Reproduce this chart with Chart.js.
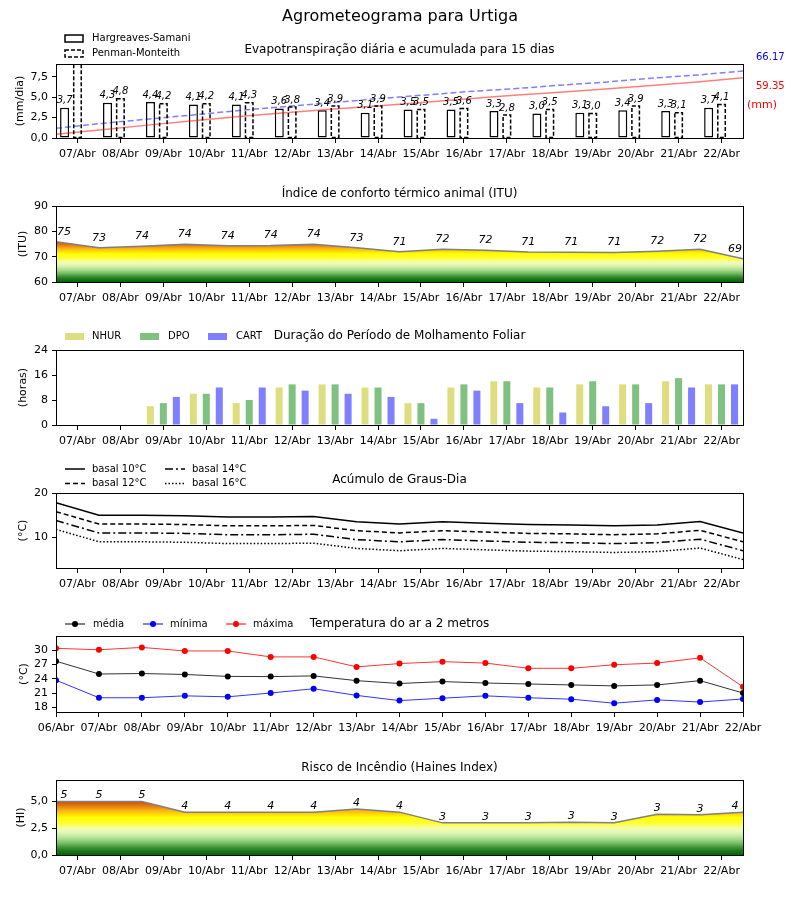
<!DOCTYPE html>
<html>
<head>
<meta charset="utf-8">
<script src="https://cdn.jsdelivr.net/npm/chart.js@4"></script>
<style>
  body { margin: 0; background: #fff; width: 800px; height: 900px; position: relative; overflow: hidden; }
  canvas { position: absolute; left: 0; }
</style>
</head>
<body>
<canvas id="c0" width="800" height="172" style="top:0px"></canvas>
<canvas id="c1" width="800" height="142" style="top:172px"></canvas>
<canvas id="c2" width="800" height="144" style="top:314px"></canvas>
<canvas id="c3" width="800" height="142" style="top:458px"></canvas>
<canvas id="c4" width="800" height="144" style="top:600px"></canvas>
<canvas id="c5" width="800" height="156" style="top:744px"></canvas>
<script>
// ---------- data ----------
const dayLabels = ['07/Abr','08/Abr','09/Abr','10/Abr','11/Abr','12/Abr','13/Abr','14/Abr',
                   '15/Abr','16/Abr','17/Abr','18/Abr','19/Abr','20/Abr','21/Abr','22/Abr'];
const tempLabels = ['06/Abr'].concat(dayLabels);

// evapotranspiration (mm/dia)
const hsDaily = [3.7, 4.3, 4.4, 4.1, 4.1, 3.6, 3.4, 3.1, 3.5, 3.5, 3.3, 3.0, 3.1, 3.4, 3.3, 3.7];
const pmDaily = [9.57, 4.8, 4.2, 4.2, 4.3, 3.8, 3.9, 3.9, 3.5, 3.6, 2.8, 3.5, 3.0, 3.9, 3.1, 4.1];
// accumulated (mm)
const hsCum = [3.8, 8.2, 12.7, 16.9, 21.1, 24.8, 28.3, 31.5, 35.1, 38.7, 42.1, 45.2, 48.4, 51.9, 55.3, 59.35];
const pmCum = [9.6, 14.4, 18.6, 22.8, 27.1, 30.9, 34.8, 38.7, 42.2, 45.8, 48.6, 52.1, 55.1, 59.0, 62.1, 66.17];

// ITU
const itu = [75.9, 73.5, 74.1, 74.9, 74.3, 74.4, 74.9, 73.5, 71.9, 72.9, 72.5, 71.8, 71.7, 71.6, 72.1, 72.9, 69.2];

// leaf wetness (horas)
const nhur = [0, 0, 6, 10, 7, 12, 13, 12, 7, 12, 14, 12, 13, 13, 14, 13];
const dpo  = [0, 0, 7, 10, 8, 13, 13, 12, 7, 13, 14, 12, 14, 13, 15, 13];
const cart = [0, 0, 9, 12, 12, 11, 10, 9, 2, 11, 7, 4, 6, 7, 12, 13];

// degree-days
const gd10 = [17.8, 15.0, 15.0, 14.9, 14.6, 14.6, 14.7, 13.5, 13.0, 13.5, 13.2, 12.9, 12.8, 12.6, 12.8, 13.6, 11.0];
const gd12 = [15.8, 13.0, 13.0, 12.9, 12.6, 12.6, 12.7, 11.5, 11.0, 11.5, 11.2, 10.9, 10.8, 10.6, 10.8, 11.6, 9.0];
const gd14 = [13.8, 11.0, 11.0, 10.9, 10.6, 10.6, 10.7, 9.5, 9.0, 9.5, 9.2, 8.9, 8.8, 8.6, 8.8, 9.6, 7.0];
const gd16 = [11.8, 9.0, 9.0, 8.9, 8.6, 8.6, 8.7, 7.5, 7.0, 7.5, 7.2, 6.9, 6.8, 6.6, 6.8, 7.6, 5.0];

// air temperature (°C)
const tMed = [27.7, 25.0, 25.1, 24.9, 24.5, 24.45, 24.6, 23.6, 23.0, 23.4, 23.1, 22.9, 22.7, 22.5, 22.7, 23.6, 21.0];
const tMin = [23.7, 20.0, 20.0, 20.4, 20.2, 21.0, 21.9, 20.5, 19.4, 19.9, 20.4, 20.0, 19.7, 18.85, 19.55, 19.1, 19.75];
const tMax = [30.4, 30.1, 30.6, 29.85, 29.85, 28.6, 28.6, 26.5, 27.2, 27.6, 27.3, 26.2, 26.2, 26.95, 27.3, 28.4, 22.3];

// Haines index
const haines = [5.0, 5.0, 5.0, 4.0, 4.0, 4.0, 4.0, 4.3, 4.0, 3.0, 3.0, 3.0, 3.05, 3.0, 3.8, 3.75, 4.0];

// y tick values
const etTicks = [0, 2.5, 5, 7.5];
const ituTicks = [60, 70, 80, 90];
const wetTicks = [0, 8, 16, 24];
const gdTicks = [10, 20];
const tempTicks = [18, 21, 24, 27, 30];
const hiTicks = [0, 2.5, 5];

// ---------- helpers ----------
const FONT = 'DejaVu Sans';
const tickFont = { family: FONT, size: 11 };
const comma = v => v.toFixed(1).replace('.', ',');
const heatStops = [[0, '#006400'], [0.08, '#1e781e'], [0.15, '#46963c'], [0.22, '#78be64'], [0.3, '#aadc8c'],
                   [0.38, '#d2f0aa'], [0.45, '#ebfabe'], [0.52, '#f5ff96'], [0.58, '#ffff3c'], [0.7, '#ffff00'],
                   [0.76, '#ffdc00'], [0.83, '#fab414'], [0.9, '#eb8214'], [1, '#c85000']];

function yAxis(min, max, ticks, fmt) {
  return {
    min: min, max: max,
    afterBuildTicks: s => { s.ticks = ticks.map(v => ({ value: v })); },
    afterFit: s => { s.width = 56; },
    ticks: { color: '#000', font: tickFont, padding: 4, callback: v => fmt ? fmt(v) : String(v) },
    grid: { drawOnChartArea: false, tickLength: 4, color: '#000' },
    border: { color: '#000' }
  };
}

function xCat(labels) {
  return {
    type: 'category', labels: labels, offset: true,
    afterFit: s => { s.height = 30; },
    ticks: { color: '#000', font: tickFont, maxRotation: 0, autoSkip: false, padding: 5 },
    grid: { offset: false, drawOnChartArea: false, tickLength: 5, color: '#000' },
    border: { color: '#000' }
  };
}

function xLin(min, max, positions, labels) {
  return {
    type: 'linear', min: min, max: max, offset: false,
    afterBuildTicks: s => { s.ticks = positions.map(v => ({ value: v })); },
    afterFit: s => { s.height = 30; },
    ticks: { color: '#000', font: tickFont, maxRotation: 0, autoSkip: false, padding: 5,
             callback: (v, i) => labels[i] },
    grid: { offset: false, drawOnChartArea: false, tickLength: 5, color: '#000' },
    border: { color: '#000' }
  };
}

function heatFill(bottom, topVal) {
  return c => {
    const ch = c.chart;
    if (!ch.chartArea) return 'rgba(0,0,0,0)';
    const s = ch.scales.y;
    const g = ch.ctx.createLinearGradient(0, s.getPixelForValue(bottom), 0, s.getPixelForValue(topVal));
    heatStops.forEach(([f, col]) => g.addColorStop(f, col));
    return g;
  };
}

function txt(ctx, s, x, y, font, color, align) {
  ctx.font = font;
  ctx.fillStyle = color || '#000';
  ctx.textAlign = align || 'left';
  ctx.textBaseline = 'middle';
  ctx.fillText(s, x, y);
}

// decoration: frame, titles, legends, labels
const deco = {
  id: 'deco',
  afterDraw(chart, args, o) {
    const ctx = chart.ctx, a = chart.chartArea, off = o.top;
    ctx.save();

    if (o.dashedBars !== undefined) {
      const meta = chart.getDatasetMeta(o.dashedBars);
      ctx.save();
      ctx.beginPath(); ctx.rect(a.left, a.top, a.right - a.left, a.bottom - a.top); ctx.clip();
      ctx.setLineDash([4, 2]); ctx.lineWidth = 1.5; ctx.strokeStyle = '#000';
      meta.data.forEach(b => {
        const p = b.getProps(['x', 'y', 'base', 'width'], true);
        ctx.strokeRect(p.x - p.width / 2 + 0.75, p.y, p.width - 1.5, p.base - p.y);
      });
      ctx.restore();
    }

    if (o.barLabels) {
      o.barLabels.forEach(di => {
        const meta = chart.getDatasetMeta(di);
        const vals = chart.data.datasets[di].data;
        meta.data.forEach((b, i) => {
          if (b.y - 10 < a.top) return;
          txt(ctx, comma(vals[i].y), b.x, b.y - 7, 'italic 10px ' + FONT, '#000', 'center');
        });
      });
    }

    if (o.pointLabels) {
      const pl = o.pointLabels;
      const meta = chart.getDatasetMeta(0);
      const vals = chart.data.datasets[0].data;
      const n = meta.data.length;
      meta.data.forEach((p, i) => {
        let x = p.x;
        if (i === 0) x += 8; else if (i === n - 1) x -= 8;
        txt(ctx, String(Math.floor(vals[i].y)), x, p.y - pl.dy, 'italic 11px ' + FONT, '#000', 'center');
      });
    }

    // frame
    ctx.setLineDash([]);
    ctx.strokeStyle = '#000'; ctx.lineWidth = 1;
    const L = Math.round(a.left) + 0.5, T = Math.round(a.top) + 0.5;
    const R = Math.round(a.right) + 0.5, B = Math.round(a.bottom) + 0.5;
    ctx.strokeRect(L, T, R - L, B - T);

    // titles
    txt(ctx, o.title, (a.left + a.right) / 2, o.titleY - off, '12px ' + FONT, '#000', 'center');
    ctx.save();
    ctx.translate(o.ylabX, (a.top + a.bottom) / 2);
    ctx.rotate(-Math.PI / 2);
    txt(ctx, o.ylab, 0, 0, '11px ' + FONT, '#000', 'center');
    ctx.restore();

    (o.legend || []).forEach(it => {
      const y = it.y - off;
      ctx.save();
      if (it.kind === 'box') {
        ctx.fillStyle = '#fff'; ctx.strokeStyle = '#000'; ctx.lineWidth = 1.5;
        ctx.setLineDash(it.dash || []);
        ctx.fillRect(it.x, y - 3.5, 18, 7);
        ctx.strokeRect(it.x, y - 3.5, 18, 7);
      } else if (it.kind === 'patch') {
        ctx.fillStyle = it.color;
        ctx.fillRect(it.x, y - 3.5, 19, 7);
      } else {
        ctx.strokeStyle = it.color; ctx.lineWidth = it.width || 1.5;
        ctx.setLineDash(it.dash || []);
        ctx.beginPath(); ctx.moveTo(it.x, y); ctx.lineTo(it.x + 20, y); ctx.stroke();
        if (it.marker) {
          ctx.setLineDash([]);
          ctx.fillStyle = it.marker;
          ctx.beginPath(); ctx.arc(it.x + 10, y, 3, 0, Math.PI * 2); ctx.fill();
        }
      }
      ctx.restore();
      txt(ctx, it.text, it.tx, y, '10px ' + FONT, '#000', 'left');
    });

    (o.texts || []).forEach(t => txt(ctx, t.text, t.x, t.y - off, t.font, t.color, t.align));
    ctx.restore();
  }
};

function pad(top, h, plotTop, plotBottom) {
  return { left: 0, right: 57, top: plotTop - top, bottom: h - (plotBottom - top) - 30 };
}

const base = {
  responsive: false, animation: false, devicePixelRatio: 1,
  plugins: { legend: { display: false }, tooltip: { enabled: false }, title: { display: false } }
};
function opts(layoutPad, scales, decoOpts) {
  return Object.assign({}, base, {
    layout: { padding: layoutPad },
    scales: scales,
    plugins: Object.assign({}, base.plugins, { deco: decoOpts })
  });
}
const dayPos = dayLabels.map((d, i) => i);
const halfDay = dayLabels.map((d, i) => i + 0.5);
const wholeDay = tempLabels.map((d, i) => i);
const pts = arr => arr.map((v, i) => ({ x: i, y: v }));

// ---------- 1: evapotranspiration ----------
const etBar = { grouped: false, barPercentage: 0.7, categoryPercentage: 1, backgroundColor: '#fff', order: 1 };
new Chart(document.getElementById('c0'), {
  type: 'bar',
  data: {
    datasets: [
      Object.assign({ label: 'Hargreaves-Samani', data: hsDaily.map((v, i) => ({ x: i - 0.3, y: v })),
        borderColor: '#000', borderWidth: 1.5, borderSkipped: false }, etBar),
      Object.assign({ label: 'Penman-Monteith', data: pmDaily.map((v, i) => ({ x: i, y: v })),
        borderWidth: 0 }, etBar),
      { type: 'line', data: pts(hsCum), xAxisID: 'x2', yAxisID: 'y2', borderColor: 'rgba(255,0,0,0.5)',
        borderWidth: 1.5, pointRadius: 0, order: 0 },
      { type: 'line', data: pts(pmCum), xAxisID: 'x2', yAxisID: 'y2', borderColor: 'rgba(0,0,255,0.5)',
        borderWidth: 1.5, borderDash: [6, 3], pointRadius: 0, order: 0 }
    ]
  },
  options: opts(pad(0, 172, 64, 138), {
    x: xLin(-0.5, 15.5, dayPos, dayLabels),
    y: yAxis(0, 9.05, etTicks, comma),
    x2: { type: 'linear', display: false, min: 0, max: 15, offset: false },
    y2: { type: 'linear', display: false, min: 0, max: 73 }
  }, {
    top: 0, title: 'Evapotranspiração diária e acumulada para 15 dias', titleY: 50, ylab: '(mm/dia)', ylabX: 20,
    dashedBars: 1, barLabels: [0, 1],
    legend: [
      { kind: 'box', x: 65, y: 38.5, text: 'Hargreaves-Samani', tx: 92 },
      { kind: 'box', x: 65, y: 53.5, dash: [4, 2], text: 'Penman-Monteith', tx: 92 }
    ],
    texts: [
      { text: 'Agrometeograma para Urtiga', x: 400, y: 17, font: '16px ' + FONT, color: '#000', align: 'center' },
      { text: '66.17', x: 756, y: 57, font: '10px ' + FONT, color: '#0000ff', align: 'left' },
      { text: '59.35', x: 756, y: 86, font: '10px ' + FONT, color: '#ff0000', align: 'left' },
      { text: '(mm)', x: 747, y: 105, font: '11px ' + FONT, color: '#ff0000', align: 'left' }
    ]
  }),
  plugins: [deco]
});

// ---------- 2: ITU ----------
new Chart(document.getElementById('c1'), {
  type: 'line',
  data: { datasets: [{ data: pts(itu), borderColor: '#808080', borderWidth: 1.5, pointRadius: 0,
                       fill: 'start', backgroundColor: heatFill(60, Math.max(...itu)) }] },
  options: opts(pad(172, 142, 206, 282), {
    x: xLin(0, 16, halfDay, dayLabels),
    y: yAxis(60, 90, ituTicks)
  }, { top: 172, title: 'Índice de conforto térmico animal (ITU)', titleY: 194, ylab: '(ITU)', ylabX: 23,
       pointLabels: { dy: 10 } }),
  plugins: [deco]
});

// ---------- 3: leaf wetness ----------
const wetBar = { barPercentage: 0.54, categoryPercentage: 0.908, borderWidth: 0 };
new Chart(document.getElementById('c2'), {
  type: 'bar',
  data: {
    labels: dayLabels,
    datasets: [
      Object.assign({ label: 'NHUR', data: nhur, backgroundColor: '#dede80' }, wetBar),
      Object.assign({ label: 'DPO', data: dpo, backgroundColor: '#80c080' }, wetBar),
      Object.assign({ label: 'CART', data: cart, backgroundColor: '#8080ff' }, wetBar)
    ]
  },
  options: opts(pad(314, 144, 350, 425), {
    x: xCat(dayLabels),
    y: yAxis(0, 24, wetTicks)
  }, {
    top: 314, title: 'Duração do Período de Molhamento Foliar', titleY: 336, ylab: '(horas)', ylabX: 23,
    legend: [
      { kind: 'patch', x: 65, y: 336.5, color: '#dede80', text: 'NHUR', tx: 92 },
      { kind: 'patch', x: 140, y: 336.5, color: '#80c080', text: 'DPO', tx: 168 },
      { kind: 'patch', x: 208, y: 336.5, color: '#8080ff', text: 'CART', tx: 236 }
    ]
  }),
  plugins: [deco]
});

// ---------- 4: degree-days ----------
const gdLine = { borderColor: '#000', borderWidth: 1.5, pointRadius: 0, fill: false };
new Chart(document.getElementById('c3'), {
  type: 'line',
  data: { datasets: [
    Object.assign({ label: 'basal 10°C', data: pts(gd10) }, gdLine),
    Object.assign({ label: 'basal 12°C', data: pts(gd12), borderDash: [5, 3] }, gdLine),
    Object.assign({ label: 'basal 14°C', data: pts(gd14), borderDash: [8, 3, 2, 3] }, gdLine),
    Object.assign({ label: 'basal 16°C', data: pts(gd16), borderDash: [1.5, 2] }, gdLine)
  ] },
  options: opts(pad(458, 142, 493, 568), {
    x: xLin(0, 16, halfDay, dayLabels),
    y: yAxis(3.1, 20, gdTicks)
  }, {
    top: 458, title: 'Acúmulo de Graus-Dia', titleY: 480, ylab: '(°C)', ylabX: 23,
    legend: [
      { kind: 'line', x: 65, y: 469, color: '#000', text: 'basal 10°C', tx: 92 },
      { kind: 'line', x: 65, y: 483.5, color: '#000', dash: [5, 3], text: 'basal 12°C', tx: 92 },
      { kind: 'line', x: 165, y: 469, color: '#000', dash: [8, 3, 2, 3], text: 'basal 14°C', tx: 192 },
      { kind: 'line', x: 165, y: 483.5, color: '#000', dash: [1.5, 2], text: 'basal 16°C', tx: 192 }
    ]
  }),
  plugins: [deco]
});

// ---------- 5: air temperature ----------
function tLine(label, data, line, dot) {
  return { label: label, data: pts(data), borderColor: line, borderWidth: 1, pointRadius: 3,
           pointBackgroundColor: dot, pointBorderColor: dot, pointBorderWidth: 0, fill: false };
}
new Chart(document.getElementById('c4'), {
  type: 'line',
  data: { datasets: [
    tLine('média', tMed, 'rgba(0,0,0,0.8)', '#000'),
    tLine('mínima', tMin, 'rgba(0,0,255,0.8)', '#0000ff'),
    tLine('máxima', tMax, 'rgba(255,0,0,0.8)', '#ff0000')
  ] },
  options: opts(pad(600, 144, 636, 712), {
    x: xLin(0, 16, wholeDay, tempLabels),
    y: yAxis(17, 33, tempTicks)
  }, {
    top: 600, title: 'Temperatura do ar a 2 metros', titleY: 624, ylab: '(°C)', ylabX: 24,
    legend: [
      { kind: 'line', x: 65, y: 624, color: '#000', width: 1, marker: '#000', text: 'média', tx: 93 },
      { kind: 'line', x: 143, y: 624, color: '#0000ff', width: 1, marker: '#0000ff', text: 'mínima', tx: 170 },
      { kind: 'line', x: 226, y: 624, color: '#ff0000', width: 1, marker: '#ff0000', text: 'máxima', tx: 253 }
    ]
  }),
  plugins: [deco]
});

// ---------- 6: Haines ----------
new Chart(document.getElementById('c5'), {
  type: 'line',
  data: { datasets: [{ data: pts(haines), borderColor: '#808080', borderWidth: 1.5, pointRadius: 0,
                       fill: 'start', backgroundColor: heatFill(0, Math.max(...haines)) }] },
  options: opts(pad(744, 156, 780, 855), {
    x: xLin(0, 16, halfDay, dayLabels),
    y: yAxis(0, 7, hiTicks, comma)
  }, { top: 744, title: 'Risco de Incêndio (Haines Index)', titleY: 768, ylab: '(HI)', ylabX: 21,
       pointLabels: { dy: 6 } }),
  plugins: [deco]
});
</script>
</body>
</html>
